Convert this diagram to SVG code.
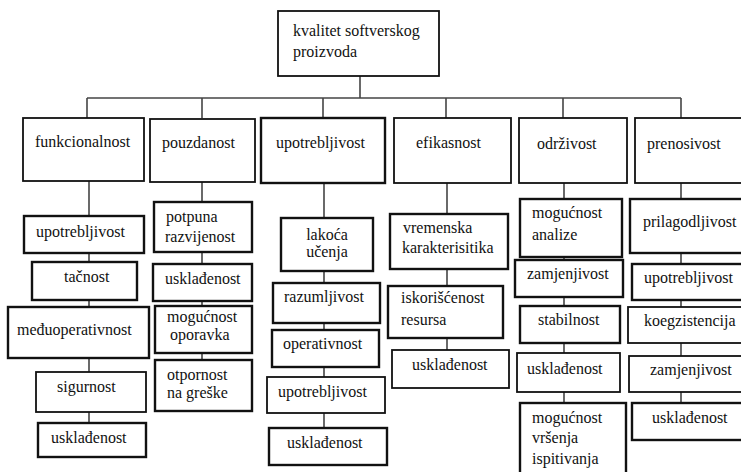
<svg xmlns="http://www.w3.org/2000/svg" width="741" height="472" viewBox="0 0 741 472">
<style>
rect{fill:#fff;stroke:#111;stroke-width:1.8}
rect.t{stroke-width:2.4}
text{font-family:"Liberation Serif","Times New Roman",serif;font-size:16px;fill:#111}
.c line{stroke:#444;stroke-width:1.6}
</style>
<rect x="0" y="0" width="741" height="472" style="fill:#fff;stroke:none"/>
<g class="c" id="connectors">
<line x1="360" y1="76" x2="360" y2="98"/>
<line x1="87" y1="98" x2="681" y2="98"/>
<line x1="87" y1="98" x2="87" y2="118"/>
<line x1="202" y1="98" x2="202" y2="118"/>
<line x1="323" y1="98" x2="323" y2="118"/>
<line x1="446" y1="98" x2="446" y2="118"/>
<line x1="563" y1="98" x2="563" y2="118"/>
<line x1="681" y1="98" x2="681" y2="118"/>
<line x1="89" y1="181" x2="89" y2="423"/>
<line x1="202" y1="182" x2="202" y2="360"/>
<line x1="324" y1="183" x2="324" y2="428"/>
<line x1="447" y1="183" x2="447" y2="350"/>
<line x1="564" y1="183" x2="564" y2="403"/>
<line x1="681" y1="183" x2="681" y2="403"/>
</g>
<g id="root"><rect x="278" y="11" width="161" height="65"/><text x="293" y="36">kvalitet softverskog</text><text x="293" y="57">proizvoda</text></g>

<g id="funkcionalnost"><rect x="23" y="118" width="121" height="63"/><text x="35" y="147">funkcionalnost</text></g>
<g id="pouzdanost"><rect x="150" y="119" width="105" height="63"/><text x="162" y="148">pouzdanost</text></g>
<g id="upotrebljivost"><rect class="t" x="261" y="118" width="124" height="65"/><text x="276" y="148">upotrebljivost</text></g>
<g id="efikasnost"><rect x="394" y="118" width="117" height="65"/><text x="416" y="148">efikasnost</text></g>
<g id="odrzivost"><rect x="519" y="118" width="108" height="65"/><text x="537" y="149">održivost</text></g>
<g id="prenosivost"><rect x="635" y="118" width="112" height="65"/><text x="647" y="149">prenosivost</text></g>

<g id="f1"><rect class="t" x="24" y="216" width="120" height="37"/><text x="36" y="237">upotrebljivost</text></g>
<g id="f2"><rect class="t" x="32" y="262" width="105" height="38"/><text x="64" y="282">tačnost</text></g>
<g id="f3"><rect class="t" x="8" y="307" width="141" height="51"/><text x="17" y="335">međuoperativnost</text></g>
<g id="f4"><rect x="36" y="372" width="110" height="40"/><text x="57" y="392">sigurnost</text></g>
<g id="f5"><rect class="t" x="38" y="423" width="108" height="34"/><text x="51" y="443">usklađenost</text></g>

<g id="p1"><rect class="t" x="154" y="202" width="98" height="50"/><text x="166" y="222">potpuna</text><text x="165" y="242">razvijenost</text></g>
<g id="p2"><rect class="t" x="153" y="264" width="99" height="37"/><text x="165" y="284">usklađenost</text></g>
<g id="p3"><rect class="t" x="155" y="306" width="97" height="47"/><text x="167" y="322">mogućnost</text><text x="170" y="340">oporavka</text></g>
<g id="p4"><rect class="t" x="155" y="360" width="97" height="51"/><text x="167" y="380">otpornost</text><text x="167" y="398">na greške</text></g>

<g id="u1"><rect class="t" x="281" y="218" width="92" height="53"/><text x="327" y="240" text-anchor="middle">lakoća</text><text x="327" y="257" text-anchor="middle">učenja</text></g>
<g id="u2"><rect class="t" x="273" y="283" width="107" height="40"/><text x="284" y="302">razumljivost</text></g>
<g id="u3"><rect class="t" x="272" y="330" width="107" height="37"/><text x="283" y="349">operativnost</text></g>
<g id="u4"><rect x="267" y="377" width="118" height="36"/><text x="278" y="397">upotrebljivost</text></g>
<g id="u5"><rect class="t" x="269" y="428" width="118" height="37"/><text x="287" y="448">usklađenost</text></g>

<g id="e1"><rect class="t" x="390" y="214" width="118" height="55"/><text x="403" y="233">vremenska</text><text x="402" y="253">karakterisitika</text></g>
<g id="e2"><rect class="t" x="388" y="286" width="115" height="52"/><text x="401" y="303">iskorišćenost</text><text x="401" y="325">resursa</text></g>
<g id="e3"><rect x="392" y="350" width="117" height="38"/><text x="412" y="370">usklađenost</text></g>

<g id="o1"><rect class="t" x="520" y="199" width="102" height="58"/><text x="532" y="218">mogućnost</text><text x="532" y="240">analize</text></g>
<g id="o2"><rect class="t" x="515" y="260" width="108" height="37"/><text x="527" y="279">zamjenjivost</text></g>
<g id="o3"><rect class="t" x="520" y="306" width="100" height="37"/><text x="538" y="325">stabilnost</text></g>
<g id="o4"><rect x="517" y="353" width="103" height="39"/><text x="527" y="374">usklađenost</text></g>
<g id="o5"><rect class="t" x="520" y="403" width="106" height="80"/><text x="532" y="423">mogućnost</text><text x="532" y="443">vršenja</text><text x="532" y="464">ispitivanja</text></g>

<g id="r1"><rect class="t" x="630" y="199" width="120" height="54"/><text x="643" y="227">prilagodljivost</text></g>
<g id="r2"><rect class="t" x="632" y="264" width="118" height="36"/><text x="644" y="283">upotrebljivost</text></g>
<g id="r3"><rect x="628" y="307" width="122" height="36"/><text x="644" y="326">koegzistencija</text></g>
<g id="r4"><rect x="629" y="356" width="121" height="36"/><text x="650" y="375">zamjenjivost</text></g>
<g id="r5"><rect class="t" x="632" y="403" width="118" height="37"/><text x="652" y="423">usklađenost</text></g>
</svg>
